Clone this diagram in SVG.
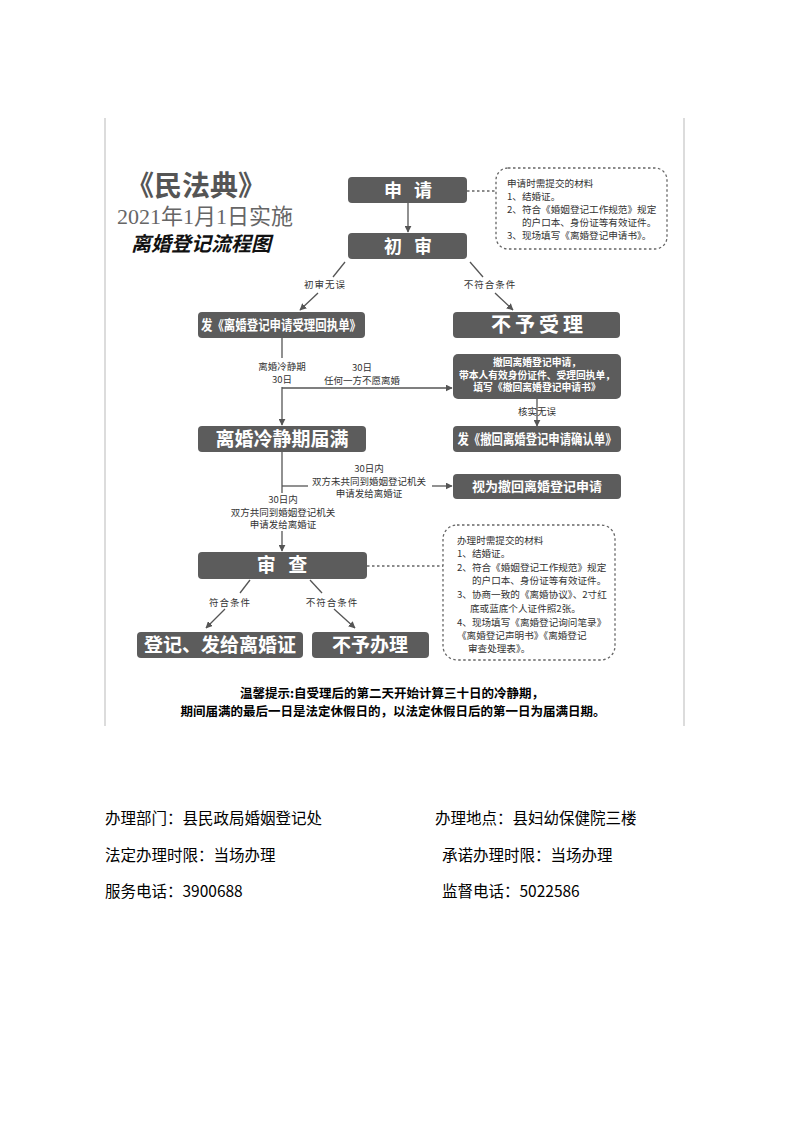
<svg xmlns="http://www.w3.org/2000/svg" width="793" height="1122" viewBox="0 0 793 1122">
<style>
.box{fill:#5c5c5c;}
.bt{fill:#fff;font-family:"Noto Sans CJK SC",sans-serif;font-weight:bold;text-anchor:middle;}
.ln{stroke:#555;stroke-width:1.3;fill:none;}
.dot{stroke:#666;stroke-width:1.3;stroke-dasharray:2.5,2.5;fill:none;}
.lb{fill:#333;font-family:"Noto Sans CJK SC",sans-serif;font-size:9.5px;text-anchor:middle;}
.nt{fill:#333;font-family:"Noto Sans CJK SC",sans-serif;font-size:9.6px;}
.ft{fill:#000;font-family:"Noto Sans CJK SC",sans-serif;font-size:15.5px;}
.tip{fill:#000;font-family:"Noto Sans CJK SC",sans-serif;font-size:12.5px;font-weight:bold;text-anchor:middle;}
</style>
<defs>
<marker id="ar" viewBox="0 0 10 10" refX="9" refY="5" markerWidth="7" markerHeight="7" orient="auto" markerUnits="userSpaceOnUse">
<path d="M0,0 L10,5 L0,10 z" fill="#555"/>
</marker>
</defs>
<rect width="793" height="1122" fill="#fff"/>
<g id="frame">
<line x1="105" y1="118" x2="105" y2="726" stroke="#d0d0d0" stroke-width="1.5"/>
<line x1="684" y1="118" x2="684" y2="726" stroke="#d0d0d0" stroke-width="1.5"/>
</g>
<g id="title">
<text x="196" y="196" font-family="Noto Sans CJK SC,sans-serif" font-size="28" font-weight="bold" fill="#555" text-anchor="middle">《民法典》</text>
<text x="205" y="224" font-family="Liberation Serif,Noto Sans CJK SC,serif" font-size="22" fill="#666" text-anchor="middle">2021年1月1日实施</text>
<text x="201" y="251" font-family="Noto Sans CJK SC,sans-serif" font-size="20" font-weight="bold" font-style="italic" fill="#111" text-anchor="middle">离婚登记流程图</text>
</g>
<g id="connectors">
<line class="ln" x1="408" y1="203" x2="408" y2="232" marker-end="url(#ar)"/>
<line class="dot" x1="467" y1="191" x2="496" y2="191"/>
<line class="ln" x1="345" y1="262" x2="333" y2="277"/>
<line class="ln" x1="318" y1="293" x2="300" y2="310" marker-end="url(#ar)"/>
<line class="ln" x1="470" y1="262" x2="483" y2="277"/>
<line class="ln" x1="495" y1="293" x2="513" y2="310" marker-end="url(#ar)"/>
<line class="ln" x1="282" y1="338" x2="282" y2="358"/>
<line class="ln" x1="282" y1="387" x2="282" y2="425" marker-end="url(#ar)"/>
<line class="ln" x1="282" y1="388" x2="452" y2="388" marker-end="url(#ar)"/>
<line class="ln" x1="537" y1="399" x2="537" y2="426" marker-end="url(#ar)"/>
<line class="ln" x1="282" y1="452" x2="282" y2="493"/>
<line class="ln" x1="282" y1="486" x2="308" y2="486"/>
<line class="ln" x1="432" y1="486" x2="452" y2="486" marker-end="url(#ar)"/>
<line class="ln" x1="282" y1="531" x2="282" y2="551" marker-end="url(#ar)"/>
<line class="dot" x1="367" y1="566" x2="443" y2="566"/>
<line class="ln" x1="250" y1="580" x2="240" y2="593"/>
<line class="ln" x1="225" y1="609" x2="206" y2="628" marker-end="url(#ar)"/>
<line class="ln" x1="310" y1="580" x2="322" y2="593"/>
<line class="ln" x1="334" y1="609" x2="355" y2="628" marker-end="url(#ar)"/>
</g>
<g id="labels">
<text class="lb" x="325" y="288" font-size="11" letter-spacing="1">初审无误</text>
<text class="lb" x="490" y="288" font-size="11" letter-spacing="1">不符合条件</text>
<text class="lb" x="282" y="370">离婚冷静期</text>
<text class="lb" x="282" y="382.5">30日</text>
<text class="lb" x="362" y="371">30日</text>
<text class="lb" x="362" y="383.5">任何一方不愿离婚</text>
<text class="lb" x="537" y="415">核实无误</text>
<text class="lb" x="369" y="472">30日内</text>
<text class="lb" x="369" y="484.5">双方未共同到婚姻登记机关</text>
<text class="lb" x="369" y="497">申请发给离婚证</text>
<text class="lb" x="283" y="503">30日内</text>
<text class="lb" x="283" y="515.5">双方共同到婚姻登记机关</text>
<text class="lb" x="283" y="528">申请发给离婚证</text>
<text class="lb" x="230" y="606" font-size="11" letter-spacing="1">符合条件</text>
<text class="lb" x="332" y="606" font-size="11" letter-spacing="1">不符合条件</text>
</g>
<g id="n-apply">
<rect class="box" x="348" y="177" width="119" height="26" rx="4"/>
<text class="bt" x="410" y="197" font-size="18" letter-spacing="4">申 请</text>
</g>
<g id="n-review1">
<rect class="box" x="348" y="233" width="119" height="26" rx="4"/>
<text class="bt" x="410" y="253" font-size="18" letter-spacing="4">初 审</text>
</g>
<g id="n-note1">
<rect class="dot" x="496" y="168" width="171" height="81" rx="12"/>
<text class="nt" x="507" y="187">申请时需提交的材料</text>
<text class="nt" x="507" y="200">1、结婚证。</text>
<text class="nt" x="507" y="213">2、符合《婚姻登记工作规范》规定</text>
<text class="nt" x="522" y="226">的户口本、身份证等有效证件。</text>
<text class="nt" x="507" y="239">3、现场填写《离婚登记申请书》。</text>
</g>
<g id="n-receipt">
<rect class="box" x="198" y="312" width="167" height="26" rx="4"/>
<text class="bt" x="281" y="330" font-size="13.5" textLength="160" lengthAdjust="spacingAndGlyphs">发《离婚登记申请受理回执单》</text>
</g>
<g id="n-reject">
<rect class="box" x="453" y="312" width="167" height="26" rx="4"/>
<text class="bt" x="539" y="332" font-size="20" letter-spacing="4">不予受理</text>
</g>
<g id="n-withdraw">
<rect class="box" x="453" y="354" width="168" height="45" rx="5"/>
<text class="bt" x="537" y="366" font-size="9.8">撤回离婚登记申请，</text>
<text class="bt" x="537" y="378.5" font-size="9.8" textLength="156" lengthAdjust="spacingAndGlyphs">带本人有效身份证件、受理回执单，</text>
<text class="bt" x="537" y="391" font-size="9.8">填写《撤回离婚登记申请书》</text>
</g>
<g id="n-cool">
<rect class="box" x="198" y="426" width="168" height="26" rx="4"/>
<text class="bt" x="282" y="446" font-size="19">离婚冷静期届满</text>
</g>
<g id="n-confirm">
<rect class="box" x="453" y="426" width="168" height="26" rx="4"/>
<text class="bt" x="537" y="444" font-size="13.5" textLength="159" lengthAdjust="spacingAndGlyphs">发《撤回离婚登记申请确认单》</text>
</g>
<g id="n-deemed">
<rect class="box" x="453" y="474" width="168" height="25" rx="4"/>
<text class="bt" x="537" y="491" font-size="13">视为撤回离婚登记申请</text>
</g>
<g id="n-review2">
<rect class="box" x="198" y="552" width="169" height="27" rx="4"/>
<text class="bt" x="284" y="572" font-size="19" letter-spacing="4">审 查</text>
</g>
<g id="n-note2">
<rect class="dot" x="443" y="525" width="172" height="135" rx="14"/>
<text class="nt" x="457" y="544">办理时需提交的材料</text>
<text class="nt" x="457" y="557">1、结婚证。</text>
<text class="nt" x="457" y="571">2、符合《婚姻登记工作规范》规定</text>
<text class="nt" x="472" y="584">的户口本、身份证等有效证件。</text>
<text class="nt" x="457" y="598">3、协商一致的《离婚协议》、2寸红</text>
<text class="nt" x="470" y="612">底或蓝底个人证件照2张。</text>
<text class="nt" x="457" y="626">4、现场填写《离婚登记询问笔录》</text>
<text class="nt" x="457" y="639">《离婚登记声明书》《离婚登记</text>
<text class="nt" x="468" y="652">审查处理表》。</text>
</g>
<g id="n-issue">
<rect class="box" x="137" y="632" width="166" height="26" rx="4"/>
<text class="bt" x="220" y="652" font-size="19">登记、发给离婚证</text>
</g>
<g id="n-refuse">
<rect class="box" x="312" y="632" width="117" height="26" rx="4"/>
<text class="bt" x="370" y="652" font-size="19">不予办理</text>
</g>
<g id="tip">
<text class="tip" x="392" y="698">温馨提示:自受理后的第二天开始计算三十日的冷静期，</text>
<text class="tip" x="393" y="716">期间届满的最后一日是法定休假日的，以法定休假日后的第一日为届满日期。</text>
</g>
<g id="footer">
<text class="ft" x="105" y="824">办理部门：县民政局婚姻登记处</text>
<text class="ft" x="435" y="824">办理地点：县妇幼保健院三楼</text>
<text class="ft" x="105" y="861">法定办理时限：当场办理</text>
<text class="ft" x="442" y="861">承诺办理时限：当场办理</text>
<text class="ft" x="105" y="897">服务电话：3900688</text>
<text class="ft" x="442" y="897">监督电话：5022586</text>
</g>
</svg>
